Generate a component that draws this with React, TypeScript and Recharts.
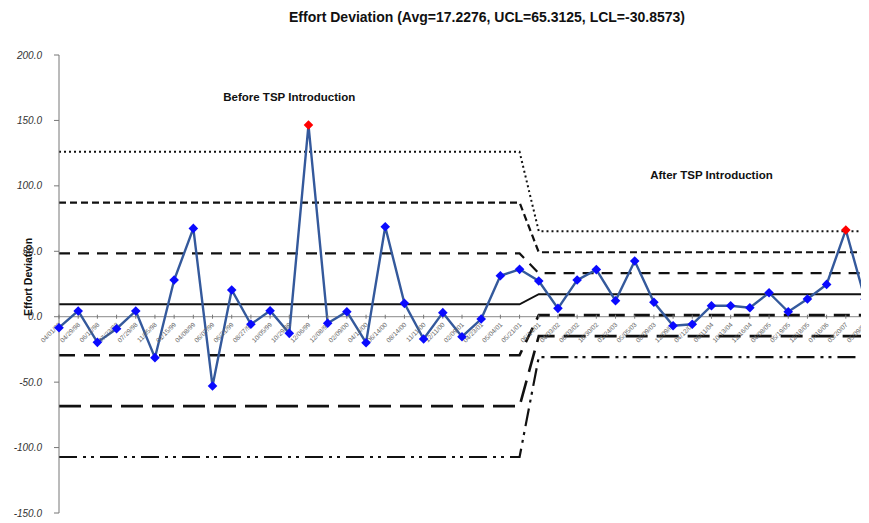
import React from 'react';
import { LineChart, Line, XAxis, YAxis, ReferenceLine, ReferenceDot } from 'recharts';

const dates = [
  '04/01/98', '04/29/98', '06/11/98', '07/23/98', '07/29/98', '11/05/98', '01/15/99', '04/08/99',
  '06/07/99', '06/21/99', '08/27/99', '10/05/99', '10/29/99', '12/06/99', '12/08/99', '02/09/00',
  '04/14/00', '06/14/00', '08/14/00', '11/11/00', '12/11/00', '02/09/01', '04/23/01', '05/04/01',
  '05/21/01', '06/14/01', '04/03/02', '06/03/02', '10/30/02', '01/24/03', '05/05/03', '08/09/03',
  '12/09/03', '04/12/04', '06/11/04', '10/13/04', '12/16/04', '04/08/05', '05/19/05', '12/18/05',
  '07/16/06', '03/20/07', '05/09/07',
];

const deviation = [
  -8.4, 4.4, -19.6, -9.2, 4.4, -31.3, 28.0, 67.5, -53.0, 20.4,
  -5.8, 4.6, -12.7, 146.5, -5.0, 3.8, -19.9, 68.8, 10.2, -17.0,
  3.1, -15.3, -1.8, 31.3, 36.2, 27.3, 6.4, 28.0, 36.0, 12.2,
  42.6, 11.0, -6.9, -5.8, 8.4, 8.4, 6.9, 18.3, 3.8, 13.5,
  24.7, 66.3, 13.3,
];

const beforeCount = 25;
const limitKeys = ['ucl', 'p2', 'p1', 'avg', 'm1', 'm2', 'lcl'];
const beforeLimits = [126.0, 87.2, 48.4, 9.5, -29.4, -68.3, -107.2];
const afterLimits = [65.3125, 49.27, 33.26, 17.2276, 1.19, -14.83, -30.8573];
const yTicks = [-150, -100, -50, 0, 50, 100, 150, 200];

const data = dates.map((d, i) => {
  const lim = i < beforeCount ? beforeLimits : afterLimits;
  const row: any = { date: d, value: deviation[i], axis: 0 };
  limitKeys.forEach((k, j) => {
    row[k] = lim[j];
  });
  return row;
});

const limitStyles: Record<string, { dash?: string; width: number }> = {
  ucl: { dash: '2 3', width: 2 },
  p2: { dash: '7 4', width: 2.2 },
  p1: { dash: '11 8', width: 2.2 },
  avg: { dash: undefined, width: 2 },
  m1: { dash: '16 9', width: 2.6 },
  m2: { dash: '22 9', width: 2.6 },
  lcl: { dash: '18 6 3 5 3 6', width: 2.2 },
};

const FONT = '"Liberation Sans", Arial, sans-serif';

const Diamond = (props: any) => {
  const { cx, cy, payload, index } = props;
  if (cx == null || cy == null) return <g key={index} />;
  const out = payload.value > payload.ucl || payload.value < payload.lcl;
  const r = 4.8;
  return (
    <polygon
      key={index}
      points={`${cx},${cy - r} ${cx + r},${cy} ${cx},${cy + r} ${cx - r},${cy}`}
      fill={out ? '#ff0000' : '#0a0aff'}
    />
  );
};

const AxisTick = (props: any) => {
  const { cx, cy, payload, index } = props;
  if (cx == null || cy == null) return <g key={index} />;
  const ax = cx - 1;
  const ay = cy + 5;
  return (
    <g key={index}>
      <line x1={cx} y1={cy - 2} x2={cx} y2={cy + 2} stroke="#777" strokeWidth={1} />
      <text
        x={ax}
        y={ay}
        transform={`rotate(-45 ${ax} ${ay})`}
        textAnchor="end"
        dominantBaseline="hanging"
        fontSize={6.5}
        fill="#666"
        fontFamily={FONT}
      >
        {payload.date}
      </text>
    </g>
  );
};

const YLabel = (props: any) => {
  const vb = props.viewBox || { x: 6, y: 47, width: 45, height: 458 };
  const cx = vb.x + 14;
  const cy = vb.y + vb.height / 2 - 7;
  return (
    <text
      x={cx}
      y={cy}
      transform={`rotate(-90 ${cx} ${cy})`}
      textAnchor="middle"
      dominantBaseline="central"
      fontSize={10.5}
      fontWeight="bold"
      fill="#111"
      fontFamily={FONT}
    >
      Effort Deviation
    </text>
  );
};

export default function App() {
  return (
    <div style={{ position: 'relative', width: 861, height: 515, background: '#fff', fontFamily: FONT }}>
      <div
        style={{
          position: 'absolute',
          top: 1,
          left: 479,
          transform: 'translateX(-50%)',
          whiteSpace: 'nowrap',
          fontSize: 14,
          fontWeight: 'bold',
          color: '#111',
          fontFamily: FONT,
        }}
      >
        Effort Deviation (Avg=17.2276, UCL=65.3125, LCL=-30.8573)
      </div>
      <LineChart
        width={861}
        height={515}
        data={data}
        margin={{ top: 47, right: 4, bottom: 10, left: 6 }}
        style={{ position: 'absolute', top: 0, left: 0 }}
      >
        <XAxis dataKey="date" type="category" scale="point" padding={{ left: 0, right: 0 }} hide />
        <YAxis
          type="number"
          domain={[-150, 200]}
          ticks={yTicks}
          interval={0}
          width={45}
          tickFormatter={(v: number) => v.toFixed(1)}
          tick={{ fontSize: 10, fontStyle: 'italic', fill: '#333', fontFamily: FONT }}
          tickSize={5}
          tickMargin={12}
          axisLine={{ stroke: '#777', strokeWidth: 1 }}
          tickLine={{ stroke: '#777', strokeWidth: 1 }}
          label={<YLabel />}
        />
        <ReferenceLine y={0} stroke="#888" strokeWidth={1} />
        <Line
          dataKey="axis"
          stroke="none"
          dot={<AxisTick />}
          activeDot={false}
          isAnimationActive={false}
          legendType="none"
        />
        {limitKeys.map((k) => (
          <Line
            key={k}
            dataKey={k}
            type="linear"
            stroke="#111"
            strokeWidth={limitStyles[k].width}
            strokeDasharray={limitStyles[k].dash}
            dot={false}
            activeDot={false}
            isAnimationActive={false}
          />
        ))}
        <Line
          dataKey="value"
          type="linear"
          stroke="#34599c"
          strokeWidth={2.4}
          dot={<Diamond />}
          activeDot={false}
          isAnimationActive={false}
        />
        <ReferenceDot
          x={dates[12]}
          y={168}
          r={0}
          fill="none"
          stroke="none"
          label={{ value: 'Before TSP Introduction', position: 'center', fontSize: 11.5, fontWeight: 'bold', fill: '#111', fontFamily: FONT }}
        />
        <ReferenceDot
          x={dates[34]}
          y={108}
          r={0}
          fill="none"
          stroke="none"
          label={{ value: 'After TSP Introduction', position: 'center', fontSize: 11.5, fontWeight: 'bold', fill: '#111', fontFamily: FONT }}
        />
      </LineChart>
    </div>
  );
}
